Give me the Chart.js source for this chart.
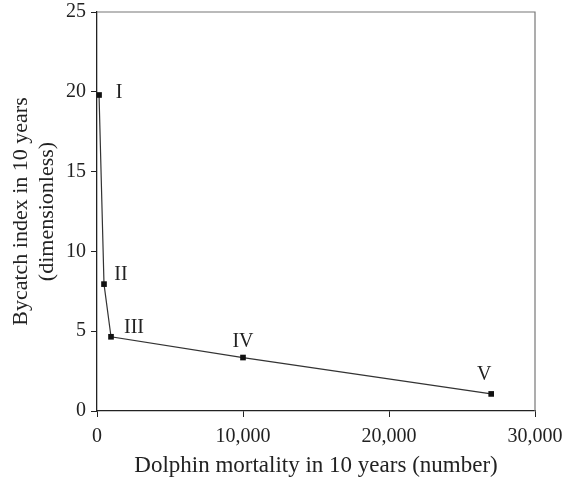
<!DOCTYPE html>
<html>
<head>
<meta charset="utf-8">
<script src="https://cdn.jsdelivr.net/npm/chart.js@4/dist/chart.umd.min.js"></script>
<style>
  html, body { margin: 0; padding: 0; background: #fff; }
  #wrap { width: 563px; height: 480px; }
</style>
</head>
<body>
<div id="wrap"><canvas id="myChart" width="563" height="480"></canvas></div>
<script>
const scenarios = ['I', 'II', 'III', 'IV', 'V'];
const dolphinMortality = [140, 480, 960, 10000, 27000];
const bycatchIndex = [19.8, 7.95, 4.65, 3.35, 1.07];
const xTicks = [0, 10000, 20000, 30000];
const yTicks = [0, 5, 10, 15, 20, 25];

const serif = '"Liberation Serif", "DejaVu Serif", serif';

// where each roman numeral sits relative to its point (px)
const labelOffsets = [[20, -2], [17, -9], [23, -9], [0, -16], [-7, -19]];

const pointLabels = {
  id: 'pointLabels',
  afterDatasetsDraw(chart) {
    const { ctx } = chart;
    const meta = chart.getDatasetMeta(0);
    ctx.save();
    ctx.font = '20px ' + serif;
    ctx.fillStyle = '#222';
    ctx.textAlign = 'center';
    ctx.textBaseline = 'middle';
    meta.data.forEach((pt, i) => {
      const [dx, dy] = labelOffsets[i];
      ctx.fillText(scenarios[i], pt.x + dx, pt.y + dy);
    });
    ctx.restore();
  }
};

const frame = {
  id: 'frame',
  afterDraw(chart) {
    const { ctx, chartArea: a } = chart;
    ctx.save();
    ctx.strokeStyle = '#777';
    ctx.lineWidth = 1.2;
    ctx.beginPath();
    ctx.moveTo(a.left, a.top);
    ctx.lineTo(a.right, a.top);
    ctx.lineTo(a.right, a.bottom);
    ctx.stroke();
    ctx.restore();
  }
};

const ctx = document.getElementById('myChart').getContext('2d');

new Chart(ctx, {
  type: 'scatter',
  data: {
    datasets: [{
      data: dolphinMortality.map((x, i) => ({ x: x, y: bycatchIndex[i] })),
      showLine: true,
      borderColor: '#333',
      borderWidth: 1.2,
      backgroundColor: '#111',
      pointStyle: 'rect',
      pointRadius: 4,
      pointBorderWidth: 0
    }]
  },
  options: {
    responsive: false,
    animation: false,
    layout: { padding: { top: 12, right: 28, left: 0, bottom: 0 } },
    plugins: { legend: { display: false }, tooltip: { enabled: false } },
    scales: {
      x: {
        type: 'linear',
        min: 0, max: 30000,
        afterBuildTicks: s => { s.ticks = xTicks.map(v => ({ value: v })); },
        afterFit: s => { s.height = 69; s.paddingLeft = 0; s.paddingRight = 0; },
        ticks: {
          color: '#222',
          font: { family: serif, size: 20 },
          padding: 8,
          maxRotation: 0,
          callback: v => v.toLocaleString('en-US')
        },
        grid: { drawOnChartArea: false, drawTicks: true, tickLength: 6, color: '#222' },
        border: { display: true, color: '#222', width: 1.3 },
        title: {
          display: true,
          text: 'Dolphin mortality in 10 years (number)',
          color: '#222',
          font: { family: serif, size: 23 },
          padding: { top: 4, bottom: 0 }
        }
      },
      y: {
        type: 'linear',
        min: 0, max: 25,
        afterBuildTicks: s => { s.ticks = yTicks.map(v => ({ value: v })); },
        afterFit: s => { s.width = 97; s.paddingTop = 0; s.paddingBottom = 0; },
        ticks: {
          color: '#222',
          font: { family: serif, size: 20 },
          padding: 5
        },
        grid: { drawOnChartArea: false, drawTicks: true, tickLength: 6, color: '#222' },
        border: { display: true, color: '#222', width: 1.3 },
        title: {
          display: true,
          text: ['Bycatch index in 10 years', '(dimensionless)'],
          color: '#222',
          font: { family: serif, size: 22, lineHeight: 1.15 },
          padding: { top: 9, bottom: 6 }
        }
      }
    }
  },
  plugins: [pointLabels, frame]
});
</script>
</body>
</html>
